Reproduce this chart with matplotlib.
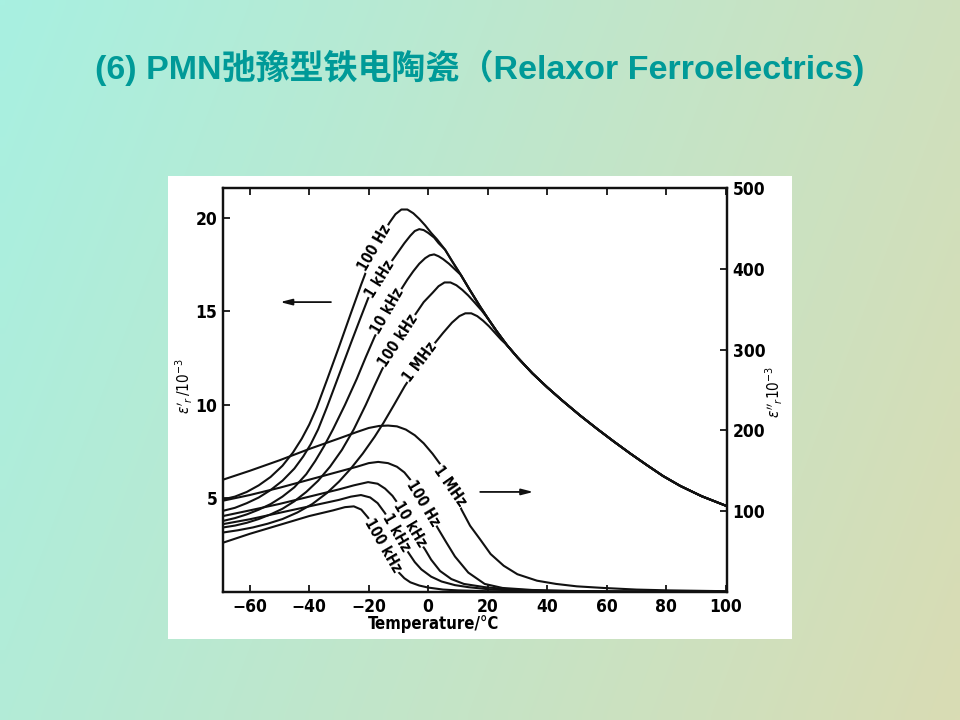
import numpy as np
import matplotlib
matplotlib.use("Agg")
import matplotlib.pyplot as plt
import matplotlib.font_manager as fm
from matplotlib.patches import Rectangle

# ---- data (T in degC) ----
# common falling branch of eps' above Tm (left axis, 10^3)
env_t = [5.7, 8, 11, 14, 17.5, 20.2, 23, 26.5, 30, 35, 40, 45, 51, 57, 62.4, 68, 73.6, 79, 84.8, 92, 100]
env_v = [18.3, 17.7, 16.95, 16.15, 15.25, 14.6, 13.95, 13.2, 12.55, 11.7, 10.95, 10.25, 9.45, 8.7, 8.05, 7.4, 6.78, 6.2, 5.67, 5.12, 4.62]

# eps' rising branches (left axis)
re_100hz_t = [-69, -65, -61, -57, -53, -49, -45.5, -42.5, -40, -37.5, -34, -30, -26, -22.5, -20, -17.5, -15, -13, -11, -9, -7, -5, -3, -1, 1, 3, 5.7]
re_100hz_v = [4.95, 5.1, 5.35, 5.7, 6.15, 6.75, 7.45, 8.2, 8.95, 9.85, 11.35, 13.1, 14.9, 16.45, 17.5, 18.4, 19.2, 19.75, 20.2, 20.45, 20.45, 20.25, 19.95, 19.6, 19.2, 18.85, 18.3]
re_1khz_t = [-69, -65, -61, -57, -53, -49, -45, -42, -39.5, -37, -34, -30, -26, -23, -20.2, -18, -16, -14, -12, -10, -8, -6, -4.5, -3, -1.5, 0, 2, 3.5]
re_1khz_v = [4.34, 4.5, 4.75, 5.05, 5.45, 5.95, 6.6, 7.25, 7.9, 8.7, 9.9, 11.6, 13.3, 14.55, 15.7, 16.35, 16.85, 17.3, 17.75, 18.2, 18.65, 19.05, 19.3, 19.4, 19.35, 19.2, 18.95, 18.65]
re_10khz_t = [-69, -65, -61, -57, -53, -49, -45, -41, -38, -35, -32, -28, -24, -21, -18, -15, -12, -9, -7, -5, -3, -1, 0.5, 2, 3.5, 5, 7, 9, 11]
re_10khz_v = [3.8, 3.95, 4.15, 4.4, 4.7, 5.1, 5.6, 6.3, 7.0, 7.8, 8.7, 10.0, 11.4, 12.55, 13.65, 14.6, 15.4, 16.2, 16.7, 17.15, 17.55, 17.85, 18.0, 18.05, 17.95, 17.8, 17.55, 17.25, 16.95]
re_100khz_t = [-69, -65, -61, -57, -53, -49, -45, -41, -37, -33, -29, -25, -21, -18, -15.5, -12, -8, -4.5, -1.5, 1.5, 3.5, 5.5, 7.5, 9.5, 11.5, 13.5, 15.5, 18]
re_100khz_v = [3.45, 3.55, 3.7, 3.9, 4.15, 4.45, 4.85, 5.35, 5.95, 6.7, 7.6, 8.7, 10.0, 11.05, 11.9, 12.9, 13.95, 14.8, 15.5, 16.0, 16.35, 16.55, 16.55, 16.4, 16.15, 15.85, 15.5, 15.05]
re_1mhz_t = [-69, -64, -59, -54, -49, -44, -39, -34, -30, -26, -22, -18, -15, -11.5, -7.9, -4, -1, 2.2, 5, 8, 10.5, 12.5, 14.5, 16.5, 18.5, 20.5, 22.5, 24.5, 26.5]
re_1mhz_v = [3.18, 3.3, 3.45, 3.65, 3.9, 4.25, 4.7, 5.3, 5.9, 6.6, 7.4, 8.3, 9.05, 10.0, 11.0, 11.95, 12.65, 13.3, 13.85, 14.4, 14.75, 14.9, 14.9, 14.75, 14.5, 14.2, 13.85, 13.5, 13.2]

# eps'' curves (right axis, as printed)
im_1mhz_t = [-69, -60, -50, -40, -30, -24, -20, -16.5, -13.5, -10.5, -7.5, -4.5, -1.5, 1.5, 4.5, 8, 11.2, 14.1, 17.5, 21, 25.4, 30, 36.6, 43, 50, 59, 70, 81, 100]
im_1mhz_v = [139, 150, 163, 177, 190, 198, 203, 205.5, 206, 205, 201, 194, 184, 171, 156, 130, 102, 82, 65, 47, 32.5, 22, 14, 10, 7, 5, 3, 2, 1]
im_100hz_t = [-69, -60, -50, -40, -30, -24, -20, -16.8, -13.5, -10.5, -8, -6, -3, 0, 3.4, 6, 9, 13.5, 19, 25, 35, 50, 70, 100]
im_100hz_v = [113, 120, 129, 139, 149, 155, 159.5, 161, 159.5, 155, 148, 139, 122, 100, 78, 62, 44, 24, 10, 5, 2.5, 1.2, 0.6, 0.3]
im_10khz_t = [-69, -60, -50, -40, -30, -25, -20.2, -17, -14.5, -12, -9.5, -6, -3, -1.1, 1, 4, 7.8, 12, 19, 28, 40, 60, 100]
im_10khz_v = [94, 101, 109, 118, 127, 132, 136, 134, 128, 119, 106, 84, 63, 53, 40, 26, 16, 10, 6, 3, 1.5, 0.6, 0.2]
im_1khz_t = [-69, -60, -50, -40, -30, -26, -22.6, -19.5, -17, -14.6, -12.5, -10.5, -8.5, -6.7, -4.5, -2.3, 1, 4.5, 9, 13.5, 20, 30, 50, 100]
im_1khz_v = [84, 90, 98, 106, 114, 118, 120, 117, 110, 98, 86, 74, 60, 49, 37, 28, 19, 13, 8.5, 6, 3.5, 1.5, 0.5, 0.2]
im_100khz_t = [-69, -60, -50, -40, -32, -28, -25, -22.5, -20.2, -17.5, -15, -12.5, -10.1, -8, -6, -3, 0, 5, 10, 20, 35, 100]
im_100khz_v = [61, 72, 83, 94, 101, 105, 106, 102, 92, 75, 57, 39, 25, 17, 12, 8, 5.5, 3, 2, 1, 0.4, 0.1]

x_ticks = [-60, -40, -20, 0, 20, 40, 60, 80, 100]
left_ticks = [5, 10, 15, 20]
right_ticks = [100, 200, 300, 400, 500]

title = "(6) PMN弛豫型铁电陶瓷（Relaxor Ferroelectrics)"

# ---- fonts ----
ttf = fm.fontManager.ttflist
names = {f.name for f in ttf}
if "Liberation Sans Narrow" in names:
    lab_font = dict(family="Liberation Sans Narrow")
elif any(f.name == "DejaVu Sans" and "condensed" in str(f.stretch) for f in ttf):
    lab_font = dict(family="DejaVu Sans", stretch="condensed")
else:
    lab_font = dict(family="Liberation Sans")

plt.rcParams["font.family"] = lab_font["family"]
if "stretch" in lab_font:
    plt.rcParams["font.stretch"] = lab_font["stretch"]
plt.rcParams["mathtext.fontset"] = "dejavusans"

fig = plt.figure(figsize=(9.6, 7.2), dpi=100)

# slide background gradient
bg = fig.add_axes([0, 0, 1, 1], zorder=-10)
h, w = 72, 96
yy, xx = np.mgrid[0:h, 0:w]
s = (0.78 * xx / (w - 1) + 0.22 * yy / (h - 1))[..., None]
c0 = np.array([168, 240, 225]) / 255
c1 = np.array([217, 220, 180]) / 255
bg.imshow(c0 + (c1 - c0) * s, aspect="auto", extent=[0, 1, 0, 1], interpolation="bilinear")
bg.axis("off")

fig.patches.append(Rectangle((168 / 960, 81 / 720), 624 / 960, 463 / 720,
                             transform=fig.transFigure, facecolor="white",
                             edgecolor="none", zorder=-5))

fig.text(0.5, 1 - 68 / 720, title, ha="center", va="center", fontsize=24.5,
         fontweight="bold", color="#009a98",
         family=["Liberation Sans", "Noto Sans CJK SC"])

ax = fig.add_axes([223 / 960, 128 / 720, 504 / 960, 404 / 720])
ax2 = ax.twinx()

lc = "#111111"
lw = 1.5


def full(t, v):
    tt = list(t) + [a for a in env_t if a > t[-1]]
    vv = list(v) + [b for a, b in zip(env_t, env_v) if a > t[-1]]
    return tt, vv


for t, v in [(re_100hz_t, re_100hz_v), (re_1khz_t, re_1khz_v), (re_10khz_t, re_10khz_v),
             (re_100khz_t, re_100khz_v), (re_1mhz_t, re_1mhz_v)]:
    tt, vv = full(t, v)
    ax.plot(tt, vv, color=lc, lw=lw, solid_joinstyle="round")

for t, v in [(im_1mhz_t, im_1mhz_v), (im_100hz_t, im_100hz_v), (im_10khz_t, im_10khz_v),
             (im_1khz_t, im_1khz_v), (im_100khz_t, im_100khz_v)]:
    ax2.plot(t, v, color=lc, lw=lw, solid_joinstyle="round")

ax.set_xlim(-69, 100.5)
ax.set_ylim(0, 21.6)
ax2.set_ylim(0, 500)

box = dict(facecolor="white", edgecolor="none", pad=0.6)
for txt, x, y, r in [("100 Hz", -18.0, 18.4, 60), ("1 kHz", -16.3, 16.75, 58),
                     ("10 kHz", -13.5, 15.0, 60), ("100 kHz", -10.1, 13.45, 57),
                     ("1 MHz", -2.7, 12.3, 53)]:
    ax.text(x, y, txt, rotation=r, ha="center", va="center", fontsize=10.5,
            fontweight="bold", bbox=box, zorder=5, rotation_mode="anchor")

for txt, x, y, r in [("1 MHz", 7.4, 131, -55), ("100 Hz", -1.7, 110, -59),
                     ("10 kHz", -6.1, 84, -59), ("1 kHz", -10.6, 73, -60),
                     ("100 kHz", -15.2, 57, -60)]:
    ax2.text(x, y, txt, rotation=r, ha="center", va="center", fontsize=10.5,
             fontweight="bold", bbox=box, zorder=5, rotation_mode="anchor")

arr = dict(arrowstyle="-|>,head_length=0.7,head_width=0.18", color=lc, lw=1.3,
           shrinkA=0, shrinkB=0)
ax.annotate("", xy=(-49.8, 15.5), xytext=(-32.7, 15.5), arrowprops=arr)
ax.annotate("", xy=(35.4, 5.35), xytext=(17.5, 5.35), arrowprops=arr)

ax.set_xticks(x_ticks)
ax.set_yticks(left_ticks)
ax2.set_yticks(right_ticks)
ax.tick_params(axis="both", direction="in", length=5, width=1.2, labelsize=12.5,
               top=True, pad=4)
ax2.tick_params(axis="y", direction="in", length=5, width=1.2, labelsize=12.5, pad=4)
for lbl in ax.get_xticklabels() + ax.get_yticklabels() + ax2.get_yticklabels():
    lbl.set_fontweight("bold")
for a in (ax, ax2):
    for sp in a.spines.values():
        sp.set_linewidth(1.6)
        sp.set_color(lc)

fig.text(434 / 960, 1 - 624 / 720, "Temperature/°C", ha="center", va="center",
         fontsize=12, fontweight="bold")
fig.text(184 / 960, 1 - 386 / 720, r"$\varepsilon'_r\,/10^{-3}$", rotation=90,
         ha="center", va="center", fontsize=11)
fig.text(774 / 960, 1 - 392 / 720, r"$\varepsilon''_r10^{-3}$", rotation=90,
         ha="center", va="center", fontsize=11)

fig.savefig("out.png", dpi=100)
